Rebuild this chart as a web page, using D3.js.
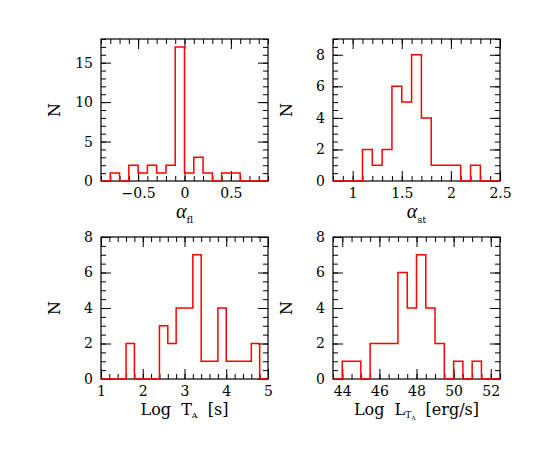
<!DOCTYPE html>
<html>
<head>
<meta charset="utf-8">
<script src="https://cdn.jsdelivr.net/npm/d3@7"></script>
<style>
  body { margin: 0; background: #fff; }
  svg text { font-family: "DejaVu Serif", serif; fill: #000; }
</style>
</head>
<body>
<script>
// histogram counts
var alphaFlCounts = [0, 1, 0, 2, 1, 2, 1, 2, 17, 1, 3, 1, 0, 1, 1, 0, 0, 0];
var alphaStCounts = [0, 0, 0, 2, 1, 2, 6, 5, 8, 4, 1, 1, 1, 0, 1, 0, 0];
var logTCounts = [0, 0, 0, 2, 0, 0, 0, 3, 2, 4, 4, 7, 1, 1, 4, 1, 1, 1, 2, 0];
var logLCounts = [0, 1, 1, 0, 2, 2, 2, 6, 4, 7, 4, 2, 0, 1, 0, 1, 0, 0];

// bin starts / widths
var binStarts = [-0.9, 0.8, 1.0, 43.5];
var binWidths = [0.1, 0.1, 0.2, 0.5];

// axis ranges and tick labels
var xDomains = [[-0.9, 0.9], [0.8, 2.5], [1, 5], [43.5, 52.5]];
var yDomains = [[0, 18], [0, 9], [0, 8], [0, 8]];
var xTickLabels = [[-0.5, 0, 0.5], [1, 1.5, 2, 2.5], [1, 2, 3, 4, 5], [44, 46, 48, 50, 52]];
var yTickLabels = [[0, 5, 10, 15], [0, 2, 4, 6, 8], [0, 2, 4, 6, 8], [0, 2, 4, 6, 8]];
var xMinorSteps = [0.1, 0.1, 0.2, 0.5];
var yMinorSteps = [1, 0.5, 0.5, 0.5];

var W = 545, H = 463;
var pw = 167, ph = 142;
var origins = [[101, 39], [333, 39], [101, 237], [333, 237]];

var svg = d3.select("body").append("svg")
    .attr("width", W).attr("height", H);

function fmt(d) {
    return d < 0 ? "\u2212" + Math.abs(d) : String(d);
}

function steps(dom, st) {
    var out = [];
    var first = Math.ceil(dom[0] / st - 1e-6);
    for (var k = first; k * st <= dom[1] + 1e-6; k++) out.push(+(k * st).toFixed(4));
    return out;
}

var counts = [alphaFlCounts, alphaStCounts, logTCounts, logLCounts];

counts.forEach(function (cnt, p) {
    var g = svg.append("g")
        .attr("transform", "translate(" + origins[p] + ")");

    var x = d3.scaleLinear().domain(xDomains[p]).range([0, pw]);
    var y = d3.scaleLinear().domain(yDomains[p]).range([ph, 0]);

    var xMinor = steps(xDomains[p], xMinorSteps[p]);
    var yMinor = steps(yDomains[p], yMinorSteps[p]);
    var xMajor = xTickLabels[p], yMajor = yTickLabels[p];

    function addAxis(axis, tx, ty) {
        var a = g.append("g").attr("transform", "translate(" + [tx, ty] + ")").call(axis);
        a.select(".domain").remove();
        a.selectAll("line").attr("stroke", "#000").attr("stroke-width", 1);
        return a;
    }

    // minor ticks, all four sides
    addAxis(d3.axisBottom(x).tickValues(xMinor).tickSize(-5).tickFormat(""), 0, ph);
    addAxis(d3.axisTop(x).tickValues(xMinor).tickSize(-5).tickFormat(""), 0, 0);
    addAxis(d3.axisLeft(y).tickValues(yMinor).tickSize(-5).tickFormat(""), 0, 0);
    addAxis(d3.axisRight(y).tickValues(yMinor).tickSize(-5).tickFormat(""), pw, 0);

    // major ticks
    var bx = addAxis(d3.axisBottom(x).tickValues(xMajor).tickSize(-10).tickFormat(fmt), 0, ph);
    addAxis(d3.axisTop(x).tickValues(xMajor).tickSize(-10).tickFormat(""), 0, 0);
    var ly = addAxis(d3.axisLeft(y).tickValues(yMajor).tickSize(-10).tickFormat(fmt), 0, 0);
    addAxis(d3.axisRight(y).tickValues(yMajor).tickSize(-10).tickFormat(""), pw, 0);

    bx.selectAll("text").attr("font-size", 14).attr("font-family", "DejaVu Serif")
        .attr("y", 17).attr("dy", 0);
    ly.selectAll("text").attr("font-size", 14).attr("font-family", "DejaVu Serif").attr("x", -8);

    // frame
    g.append("rect").attr("width", pw).attr("height", ph)
        .attr("fill", "none").attr("stroke", "#000").attr("stroke-width", 1.2);

    // histogram step line
    var pts = cnt.map(function (c, i) { return [binStarts[p] + i * binWidths[p], c]; });
    pts.push([binStarts[p] + cnt.length * binWidths[p], cnt[cnt.length - 1]]);
    var line = d3.line()
        .x(function (d) { return x(d[0]); })
        .y(function (d) { return y(d[1]); })
        .curve(d3.curveStepAfter);
    g.append("path").datum(pts)
        .attr("d", line)
        .attr("fill", "none").attr("stroke", "#ff0000").attr("stroke-width", 1.5);

    // y label
    g.append("text")
        .attr("transform", "translate(" + [-41, ph / 2] + ") rotate(-90)")
        .attr("text-anchor", "middle")
        .attr("font-size", 16)
        .text("N");
});

// x labels with subscripts
function xLabel(p, dy, build) {
    var t = svg.append("text")
        .attr("x", origins[p][0] + pw / 2)
        .attr("y", origins[p][1] + ph + dy)
        .attr("text-anchor", "middle")
        .attr("font-size", 16)
        .attr("word-spacing", 5);
    build(t);
}

xLabel(0, 37, function (t) {
    t.append("tspan").attr("font-size", 20).attr("font-style", "italic")
        .attr("font-family", "Liberation Serif").text("\u03b1");
    t.append("tspan").attr("font-size", 10).attr("dy", 5).text("fl");
});
xLabel(1, 37, function (t) {
    t.append("tspan").attr("font-size", 20).attr("font-style", "italic")
        .attr("font-family", "Liberation Serif").text("\u03b1");
    t.append("tspan").attr("font-size", 10).attr("dy", 5).text("st");
});
xLabel(2, 36, function (t) {
    t.append("tspan").text("Log T");
    t.append("tspan").attr("font-size", 8).attr("dy", 3).text("A");
    t.append("tspan").attr("dy", -3).text(" [s]");
});
xLabel(3, 36, function (t) {
    t.append("tspan").text("Log L");
    t.append("tspan").attr("font-size", 9).attr("dy", 3).text("T");
    t.append("tspan").attr("font-size", 6).attr("dy", 2).text("A");
    t.append("tspan").attr("dy", -5).text(" [erg/s]");
});
</script>
</body>
</html>
